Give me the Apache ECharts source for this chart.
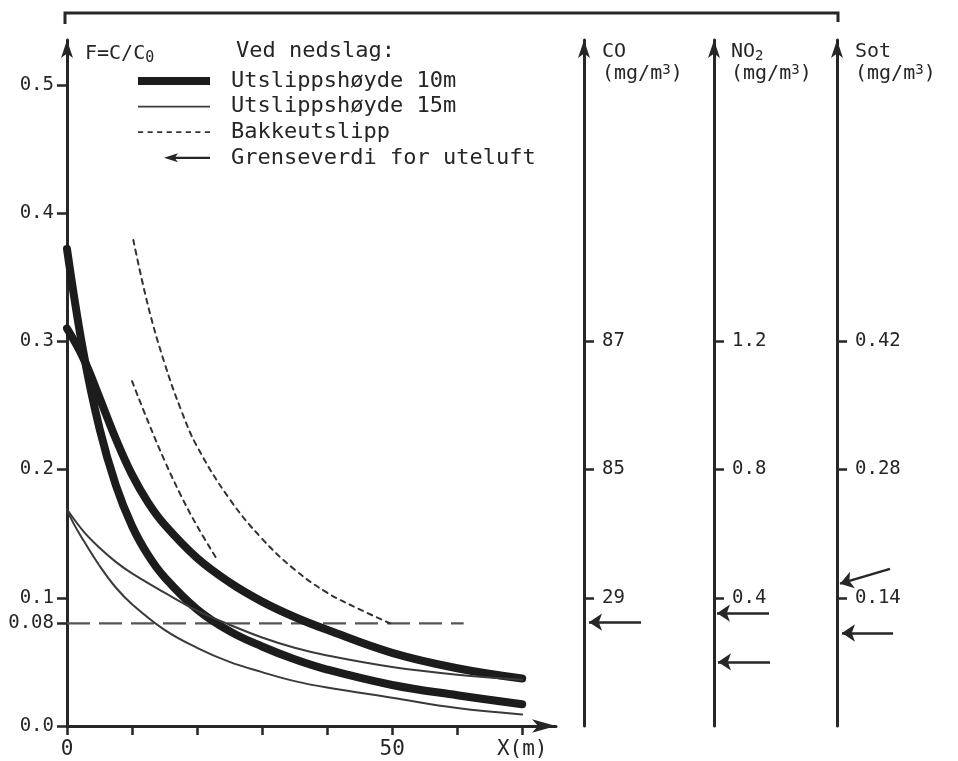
<!DOCTYPE html>
<html>
<head>
<meta charset="utf-8">
<script src="https://cdn.jsdelivr.net/npm/echarts@6/dist/echarts.min.js"></script>
<style>html,body{margin:0;padding:0;background:#fff}#c{width:958px;height:761px}</style>
</head>
<body>
<div id="c"></div>
<script>
// ---- data (x in m, F = C/C0) ----
const xThick10a = [0, 2.5, 5, 7.5, 10, 12.5, 15, 20, 25, 30, 35, 40, 50, 60, 70];
const fThick10a = [0.372, 0.292, 0.232, 0.188, 0.156, 0.133, 0.116, 0.091, 0.074, 0.062, 0.052, 0.044, 0.032, 0.024, 0.017];
const xThick10b = [0, 2.5, 5, 7.5, 10, 12.5, 15, 20, 25, 30, 35, 40, 50, 60, 70];
const fThick10b = [0.310, 0.287, 0.256, 0.224, 0.196, 0.174, 0.157, 0.131, 0.112, 0.097, 0.085, 0.075, 0.057, 0.045, 0.037];
const xThin15a = [0, 2.5, 5, 7.5, 10, 15, 20, 25, 30, 35, 40, 50, 60, 70];
const fThin15a = [0.169, 0.152, 0.139, 0.128, 0.119, 0.104, 0.090, 0.079, 0.069, 0.061, 0.055, 0.046, 0.040, 0.036];
const xThin15b = [0, 1, 2.5, 5, 7.5, 10, 15, 20, 25, 30, 35, 40, 50, 60, 70];
const fThin15b = [0.169, 0.158, 0.145, 0.125, 0.108, 0.095, 0.075, 0.061, 0.050, 0.042, 0.035, 0.030, 0.022, 0.014, 0.009];
const xGroundA = [10.2, 12.5, 15, 17.5, 20, 25, 30, 35, 40, 45, 49.7];
const fGroundA = [0.379, 0.327, 0.283, 0.247, 0.218, 0.177, 0.146, 0.122, 0.104, 0.091, 0.080];
const xGroundB = [10.0, 12.5, 15, 17.5, 20, 23.2];
const fGroundB = [0.269, 0.237, 0.207, 0.180, 0.156, 0.129];
const limitF = 0.08;
const limitLineX = [0, 61];

// limit-value arrows on the concentration scales: [tailX, tailF, tipX, tipF] (x as fraction of panel)
const arrowsCO = [[0.57, 0.081, 0.05, 0.081]];
const arrowsNO2 = [[0.55, 0.088, 0.03, 0.088], [0.56, 0.050, 0.04, 0.050]];
const arrowsSot = [[0.53, 0.1225, 0.03, 0.111], [0.56, 0.0725, 0.05, 0.0725]];

// tick labels
const yTickVals = [0, 0.08, 0.1, 0.2, 0.3, 0.4, 0.5];
const yTickLabels = ['0.0', '0.08', '0.1', '0.2', '0.3', '0.4', '0.5'];
const xTickVals = [0, 10, 20, 30, 40, 50, 60, 70];
const xLabelVals = [0, 50, 70];
const xLabelTexts = ['0', '50', 'X(m)'];
const rightTickVals = [0.1, 0.2, 0.3];
const coLabels = ['29', '85', '87'];
const no2Labels = ['0.4', '0.8', '1.2'];
const sotLabels = ['0.14', '0.28', '0.42'];

const legendNames = ['Utslippshøyde 10m', 'Utslippshøyde 15m', 'Bakkeutslipp', 'Grenseverdi for uteluft'];

// ---- build ----
const MONO = '"DejaVu Sans Mono", monospace';
const INK = '#262626';
const zip = (xs, ys) => xs.map((x, i) => [x, ys[i]]);
const GT = 40, GH = 686;
const YMAX = 0.535;

// legend icon shapes
const iconThick = 'path://M0 0H72V8H0Z';
const iconThin = 'path://M0 0H72V1.8H0Z';
let dashPath = 'path://M0 0H0.01V8H0Z';
for (let i = 0; i < 8; i++) { const s = i * 9.3; dashPath += `M${s} 3.1H${s + 5}V4.9H${s}Z`; }
const iconArrow = 'path://M-26 5L-25.99 5L-26 5.001ZM0 5L14 0.5L11.5 4L46 4L46 6.2L11.5 6.2L14 9.5Z';

function rightPanelY(idx, labels) {
  return {
    gridIndex: idx, type: 'value', min: 0, max: YMAX,
    axisLine: {show: true, onZero: false, symbol: ['none', 'arrow'], symbolSize: [9, 18], lineStyle: {color: INK, width: 3}},
    axisTick: {show: true, inside: true, length: 10, customValues: rightTickVals, lineStyle: {color: INK, width: 2.5}},
    axisLabel: {show: true, inside: true, margin: 18, customValues: rightTickVals,
      formatter: v => labels[rightTickVals.indexOf(v)], fontFamily: MONO, fontSize: 19, color: INK},
    splitLine: {show: false}
  };
}
function arrowSeries(idx, arr) {
  return {
    type: 'lines', name: 'Grenseverdi for uteluft', coordinateSystem: 'cartesian2d',
    xAxisIndex: idx, yAxisIndex: idx, symbol: ['none', 'arrow'], symbolSize: [0, 13],
    lineStyle: {color: INK, width: 2.5, opacity: 1, curveness: 0},
    itemStyle: {color: INK},
    data: arr.map(a => ({coords: [[a[0], a[1]], [a[2], a[3]]]})),
    z: 5
  };
}
function curve(name, xs, ys, width, color, dash) {
  return {
    type: 'line', name, data: zip(xs, ys), smooth: 0.4, showSymbol: false, symbol: 'none',
    xAxisIndex: 0, yAxisIndex: 0, clip: false,
    lineStyle: {width, color, type: dash || 'solid', cap: 'round', join: 'round'},
    itemStyle: {color}, z: 3
  };
}
const plain = (size, extra) => Object.assign({fontFamily: MONO, fontSize: size, fontWeight: 'normal', color: INK}, extra || {});

const chart = echarts.init(document.getElementById('c'), null, {renderer: 'canvas'});
const option = {
  backgroundColor: '#fff',
  animation: false,
  title: [
    {text: 'Ved nedslag:', left: 231, top: 35, textStyle: plain(22)},
    {text: '{a|F=C/C}{b|0}', left: 80, top: 36, textStyle: {fontWeight: 'normal', rich: {
      a: plain(20, {lineHeight: 24}),
      b: plain(15, {verticalAlign: 'bottom', padding: [10, 0, 0, 0]})}}},
    {text: '{a|CO}\n{a|(mg/m}{s|3}{a|)}', left: 597, top: 36, textStyle: {fontWeight: 'normal', rich: {
      a: plain(20, {lineHeight: 22}),
      s: plain(14, {verticalAlign: 'top', padding: [0, 0, 8, 0]})}}},
    {text: '{a|NO}{b|2}\n{a|(mg/m}{s|3}{a|)}', left: 726, top: 36, textStyle: {fontWeight: 'normal', rich: {
      a: plain(20, {lineHeight: 22}),
      b: plain(14, {verticalAlign: 'bottom', padding: [8, 0, 0, 0]}),
      s: plain(14, {verticalAlign: 'top', padding: [0, 0, 8, 0]})}}},
    {text: '{a|Sot}\n{a|(mg/m}{s|3}{a|)}', left: 850, top: 36, textStyle: {fontWeight: 'normal', rich: {
      a: plain(20, {lineHeight: 22}),
      s: plain(14, {verticalAlign: 'top', padding: [0, 0, 8, 0]})}}}
  ],
  legend: {
    orient: 'vertical', left: 133, top: 65, itemWidth: 72, itemHeight: 12, itemGap: 3.6,
    selectedMode: false,
    itemStyle: {borderWidth: 0},
    textStyle: {fontFamily: MONO, fontSize: 22, color: INK, lineHeight: 22, padding: [0, 0, 0, 16]},
    data: [
      {name: legendNames[0], icon: iconThick},
      {name: legendNames[1], icon: iconThin},
      {name: legendNames[2], icon: dashPath},
      {name: legendNames[3], icon: iconArrow}
    ]
  },
  grid: [
    {left: 67, top: GT, width: 489, height: GH},
    {left: 584, top: GT, width: 100, height: GH},
    {left: 714, top: GT, width: 100, height: GH},
    {left: 837, top: GT, width: 100, height: GH}
  ],
  xAxis: [
    {gridIndex: 0, type: 'value', min: 0, max: 75.2,
      axisLine: {show: true, onZero: false, symbol: ['none', 'arrow'], symbolSize: [10, 24], lineStyle: {color: INK, width: 3}},
      axisTick: {show: true, length: 9, customValues: xTickVals, lineStyle: {color: INK, width: 2.5}},
      axisLabel: {show: true, margin: 13, customValues: xLabelVals, formatter: v => xLabelTexts[xLabelVals.indexOf(v)],
        fontFamily: MONO, fontSize: 21, color: INK},
      splitLine: {show: false}},
    {gridIndex: 1, type: 'value', min: 0, max: 1, show: false},
    {gridIndex: 2, type: 'value', min: 0, max: 1, show: false},
    {gridIndex: 3, type: 'value', min: 0, max: 1, show: false}
  ],
  yAxis: [
    {gridIndex: 0, type: 'value', min: 0, max: YMAX,
      axisLine: {show: true, onZero: false, symbol: ['none', 'arrow'], symbolSize: [9, 18], lineStyle: {color: INK, width: 3}},
      axisTick: {show: true, length: 10, customValues: yTickVals, lineStyle: {color: INK, width: 2.5}},
      axisLabel: {show: true, margin: 13, customValues: yTickVals, formatter: v => yTickLabels[yTickVals.indexOf(v)],
        fontFamily: MONO, fontSize: 19, color: INK},
      splitLine: {show: false}},
    rightPanelY(1, coLabels),
    rightPanelY(2, no2Labels),
    rightPanelY(3, sotLabels)
  ],
  graphic: [
    {type: 'polyline', shape: {points: [[65, 24], [65, 13], [838, 13], [838, 22]]},
      style: {stroke: INK, lineWidth: 3, fill: null}, silent: true}
  ],
  series: [
    curve(legendNames[0], xThick10a, fThick10a, 8, '#1c1c1c'),
    curve(legendNames[0], xThick10b, fThick10b, 8, '#1c1c1c'),
    curve(legendNames[1], xThin15a, fThin15a, 2, '#3a3a3a'),
    curve(legendNames[1], xThin15b, fThin15b, 2, '#3a3a3a'),
    curve(legendNames[2], xGroundA, fGroundA, 2, '#333', [5, 5]),
    curve(legendNames[2], xGroundB, fGroundB, 2, '#333', [5, 5]),
    {type: 'line', name: 'limit', data: limitLineX.map(x => [x, limitF]), showSymbol: false, symbol: 'none',
      xAxisIndex: 0, yAxisIndex: 0, lineStyle: {width: 2.2, color: '#555', type: [23, 9]}, z: 2},
    arrowSeries(1, arrowsCO),
    arrowSeries(2, arrowsNO2),
    arrowSeries(3, arrowsSot)
  ]
};
chart.setOption(option);
</script>
</body>
</html>
